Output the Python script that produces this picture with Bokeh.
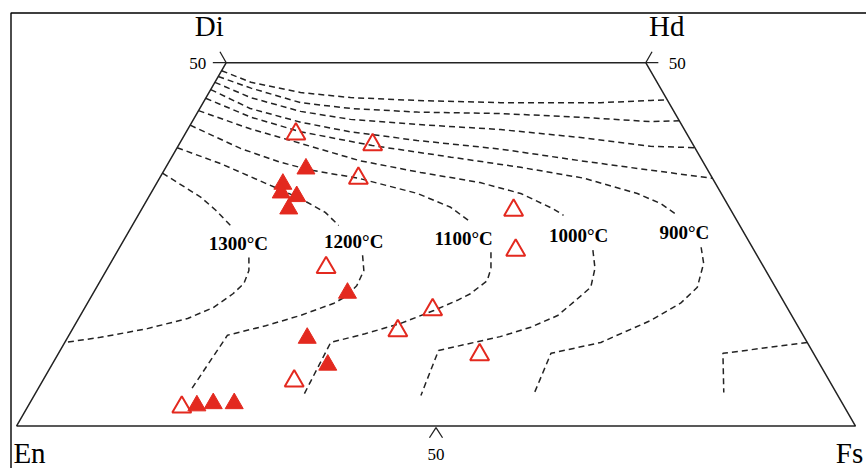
import numpy as np
from bokeh.plotting import figure
from bokeh.models import Range1d, ColumnDataSource
from bokeh.embed import file_html
from bokeh.resources import INLINE
from bokeh.core.properties import value

# ---------------------------------------------------------------------------
# Pyroxene quadrilateral En-Fs-Hd-Di; all compositions are (Wo, Fs) in mol %.
# ---------------------------------------------------------------------------

# Isotherms, upper (Ca-rich) branches starting on the En-Di side
top1_wo = [48.9, 47.3, 45.9, 45.2, 44.8, 44.5, 44.5, 44.8, 44.9]
top1_fs = [0.0, 4.3, 10.9, 17.2, 25.4, 35.4, 47.4, 53.2, 55.1]
top2_wo = [48.1, 46.5, 44.5, 43.7, 43.2, 43.0, 42.5, 41.9, 42.0]
top2_fs = [0.0, 4.7, 11.6, 18.0, 26.2, 36.2, 46.0, 54.6, 58.0]
top3_wo = [47.3, 45.2, 43.3, 42.2, 41.5, 40.8, 39.7, 38.5, 38.3]
top3_fs = [0.0, 5.3, 12.2, 18.7, 27.0, 37.3, 47.4, 56.3, 61.7]
top4_wo = [46.3, 43.7, 41.8, 40.5, 39.3, 38.1, 36.5, 35.2, 34.1]
top4_fs = [0.0, 6.0, 13.0, 19.5, 28.1, 38.7, 49.0, 58.0, 65.9]
up900_wo = [45.1, 42.5, 40.5, 38.6, 37.0, 35.6, 34.1, 32.0, 30.6, 29.0]
up900_fs = [0.0, 6.7, 13.6, 23.1, 33.3, 42.3, 50.6, 58.0, 61.5, 64.3]
up1000_wo = [43.4, 40.9, 38.9, 36.5, 34.9, 33.5, 32.0, 29.9, 29.0]
up1000_fs = [0.0, 7.4, 14.4, 22.7, 30.7, 38.5, 44.1, 49.0, 50.7]
up1100_wo = [41.4, 38.2, 36.3, 35.2, 34.1, 32.0, 30.1, 28.3]
up1100_fs = [0.0, 7.6, 13.3, 17.5, 23.7, 31.8, 36.7, 39.7]
up1200_wo = [38.3, 36.1, 33.4, 31.3, 29.4, 27.6]
up1200_fs = [0.0, 6.3, 13.0, 18.2, 22.1, 24.6]
up1300_wo = [34.8, 31.5, 29.7, 27.6]
up1300_fs = [0.0, 6.2, 8.9, 11.7]

# Isotherms, lower branches (below the temperature labels)
lo1300_wo = [23.2, 21.4, 19.6, 18.2, 16.3, 14.8, 13.4, 12.2, 11.5]
lo1300_fs = [16.1, 17.0, 17.3, 16.7, 15.3, 13.0, 8.9, 3.9, 0.0]
lo1200_wo = [23.5, 21.4, 19.3, 17.8, 16.9, 15.2, 13.8, 12.5, 4.9]
lo1200_fs = [29.5, 30.7, 30.9, 30.3, 29.4, 26.2, 22.8, 18.9, 18.3]
lo1100_wo = [23.9, 21.7, 20.0, 18.2, 17.3, 15.9, 14.1, 12.7, 11.5, 4.2]
lo1100_fs = [44.6, 45.7, 46.1, 45.0, 43.9, 41.8, 38.7, 35.2, 31.7, 32.1]
lo1000_wo = [24.2, 21.7, 19.1, 17.3, 15.2, 13.6, 12.3, 10.4, 4.2]
lo1000_fs = [56.6, 58.1, 58.9, 58.0, 56.9, 54.5, 51.5, 45.1, 46.1]
lo900_wo = [24.6, 22.4, 19.1, 16.9, 14.5, 11.5, 10.0, 4.2]
lo900_fs = [69.3, 70.7, 71.6, 70.7, 68.3, 63.9, 58.7, 59.5]
lo800_wo = [11.5, 10.0, 4.6]
lo800_fs = [88.5, 79.2, 82.0]

# Temperature labels
temp_labels = ["1300°C", "1200°C", "1100°C", "1000°C", "900°C"]
temp_wo = [25.1, 25.4, 25.8, 26.2, 26.6]
temp_fs = [13.9, 27.5, 40.4, 53.9, 66.3]

# Samples: filled and open triangles
filled_wo = [35.4, 33.3, 32.1, 31.6, 29.9, 18.3, 12.1, 8.4, 2.8, 3.1, 3.1]
filled_fs = [16.8, 15.1, 15.5, 17.6, 17.5, 30.3, 28.6, 32.9, 20.1, 21.9, 24.4]
open_wo = [40.2, 38.7, 34.1, 29.7, 24.2, 21.8, 16.0, 13.1, 9.8, 6.2, 2.6]
open_fs = [13.2, 23.1, 23.7, 44.4, 47.4, 26.0, 41.6, 38.9, 50.3, 30.0, 18.4]

# Corner end-members (Di, Hd, En, Fs)
corner_names = ["Di", "Hd", "En", "Fs"]
corner_wo = [50.0, 50.0, 0.0, 0.0]
corner_fs = [0.0, 50.0, 0.0, 100.0]
tick_text = ["50", "50", "50"]

# ---------------------------------------------------------------------------
SQ = np.sqrt(3.0) / 2.0
PX = 8.39          # pixels per composition unit
W, H = 866, 468
RED = "#e3291f"
INK = "#232323"
SERIF = value("Liberation Serif")


def xy(wo, fs):
    wo = np.asarray(wo, dtype=float)
    fs = np.asarray(fs, dtype=float)
    return fs + wo / 2.0, wo * SQ


def shift(x, y, dx, dy):
    """Move a data point by screen pixels (dy positive = down)."""
    return x + dx / PX, y - dy / PX


x0 = -16.0 / PX
y1 = 425.5 / PX
p = figure(width=W, height=H, output_backend="svg", toolbar_location=None,
           x_range=Range1d(x0, x0 + W / PX), y_range=Range1d(y1 - H / PX, y1),
           x_axis_type=None, y_axis_type=None, min_border=0, title=None)
p.grid.visible = False
p.outline_line_color = None
p.background_fill_color = "white"
p.border_fill_color = "white"

# page frame (left and top edges)
fl, ft = shift(x0, y1, 10.5, 12.5)
p.line([fl, fl, x0 + W / PX + 1], [y1 - H / PX - 1, ft, ft], line_color="black", line_width=1.4)

# quadrilateral outline: En -> Fs -> Hd -> Di -> En
order = [2, 3, 1, 0, 2]
qx, qy = xy([corner_wo[i] for i in order], [corner_fs[i] for i in order])
p.line(qx, qy, line_color=INK, line_width=1.5)

# 50 % tick marks
cx, cy = xy(corner_wo, corner_fs)
dix, diy = cx[0], cy[0]
hdx, hdy = cx[1], cy[1]
bx, by = (cx[2] + cx[3]) / 2.0, cy[2]
p.line([dix - 1.6, dix, dix - 0.75], [diy, diy, diy + 1.3], line_color=INK, line_width=1.3)
p.line([hdx + 1.5, hdx, hdx + 0.75], [hdy, hdy, hdy + 1.3], line_color=INK, line_width=1.3)
p.line([bx - 0.78, bx, bx + 0.78], [by - 1.4, by - 0.2, by - 1.4], line_color=INK, line_width=1.3)

# isotherms
branches = [
    (top1_wo, top1_fs), (top2_wo, top2_fs), (top3_wo, top3_fs), (top4_wo, top4_fs),
    (up900_wo, up900_fs), (up1000_wo, up1000_fs), (up1100_wo, up1100_fs),
    (up1200_wo, up1200_fs), (up1300_wo, up1300_fs),
    (lo1300_wo, lo1300_fs), (lo1200_wo, lo1200_fs), (lo1100_wo, lo1100_fs),
    (lo1000_wo, lo1000_fs), (lo900_wo, lo900_fs), (lo800_wo, lo800_fs),
]
for wo, fs in branches:
    bxs, bys = xy(wo, fs)
    p.line(bxs, bys, line_color=INK, line_width=1.5, line_dash="6 4")

# temperature labels
tx, ty = xy(temp_wo, temp_fs)
p.text(tx, ty, text=temp_labels, text_font=SERIF, text_font_size="19px",
       text_font_style="bold", text_align="center", text_baseline="middle", text_color="black")

# samples
fx, fy = xy(filled_wo, filled_fs)
p.scatter(fx, fy, marker="triangle", size=18, fill_color=RED, line_color=RED, line_width=1)
ox, oy = xy(open_wo, open_fs)
p.scatter(ox, oy, marker="triangle", size=19, fill_color=None, line_color=RED, line_width=2)

# end-member labels
offs = [(-17, -37), (21, -37), (13, 27.0), (-6, 26.5)]
lx, ly = [], []
for i, (dx, dy) in enumerate(offs):
    a, b = shift(cx[i], cy[i], dx, dy)
    lx.append(a)
    ly.append(b)
p.text(lx, ly, text=corner_names, text_font=SERIF, text_font_size="29px",
       text_align="center", text_baseline="middle", text_color="black")

# 50 % labels
t1 = shift(dix, diy, -20, 1.0)
t2 = shift(hdx, hdy, 23, 1.0)
t3 = shift(bx, by, 0, 28.5)
src = ColumnDataSource(dict(x=[t1[0], t2[0], t3[0]], y=[t1[1], t2[1], t3[1]], t=tick_text,
                            align=["right", "left", "center"]))
p.text("x", "y", text="t", source=src, text_font=SERIF, text_font_size="17px",
       text_align="align", text_baseline="middle", text_color="black")

open("out.html", "w").write(file_html(p, INLINE))
